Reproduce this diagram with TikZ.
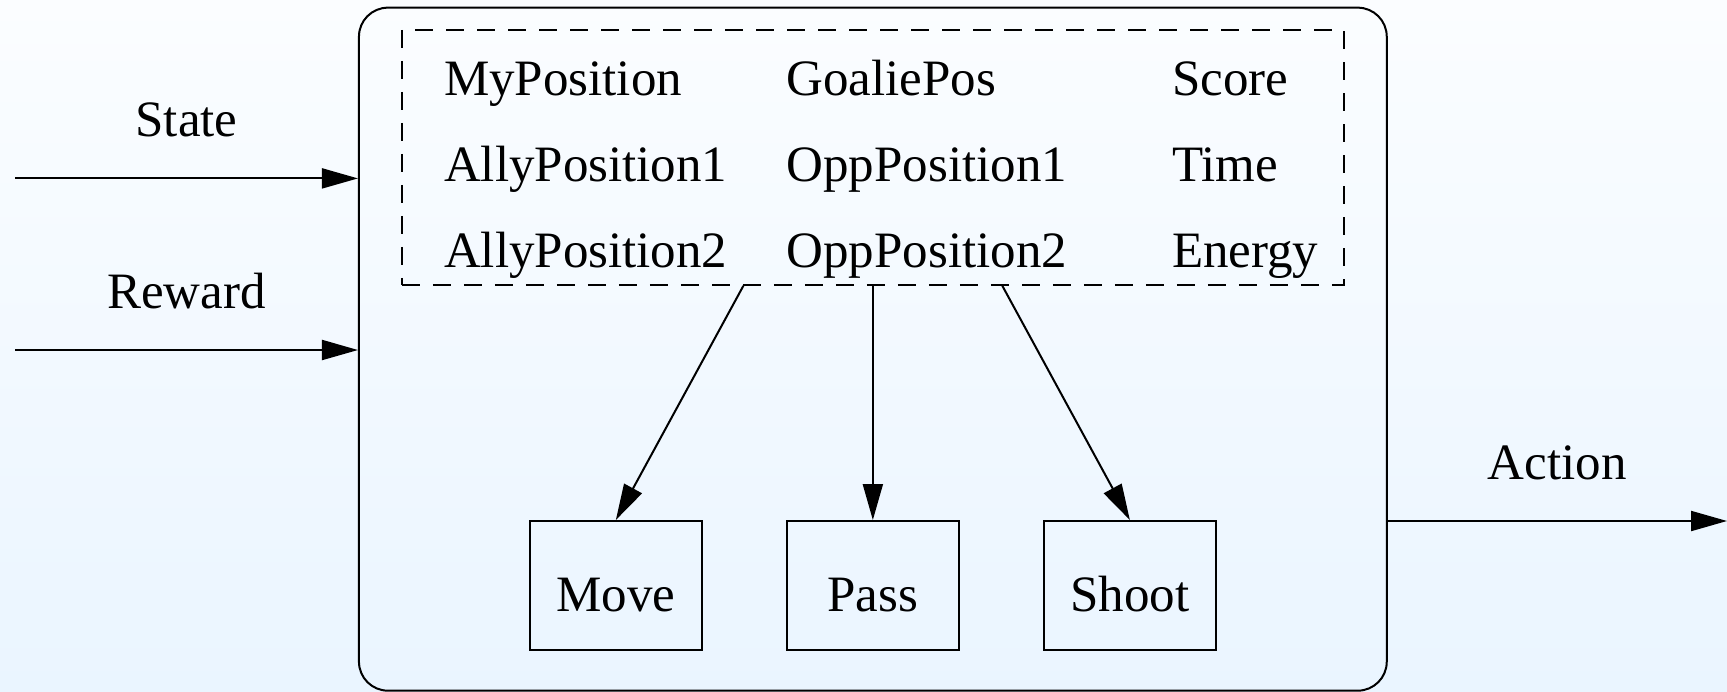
\documentclass[tikz,border=0pt]{standalone}
\usepackage{fontspec}
\setmainfont{Liberation Serif}
\usetikzlibrary{arrows.meta,calc}

\definecolor{skytop}{RGB}{251,253,255}
\definecolor{skybottom}{RGB}{234,245,255}

\tikzset{
  lbl/.style={font=\fontsize{25.5}{30}\selectfont},
  flow/.style={-{Triangle[length=18pt,width=10pt]}, line width=1pt},
  actbox/.style={draw, line width=1pt, minimum width=86pt, minimum height=64.5pt, inner sep=0pt, text height=25.6pt, text depth=0pt, lbl},
}

\begin{document}
\begin{tikzpicture}[x=0.5pt,y=-0.5pt]
   % backdrop
   \shade[top color=skytop, bottom color=skybottom] (0,0) rectangle (1727,691);
   \useasboundingbox (0,0) rectangle (1727,691);

   % agent with its feature block
   \node[draw, line width=1pt, rounded corners=14.5pt, minimum width=513.9pt, minimum height=341.5pt] (agent) at (872.85,349.15) {};
   \node[draw, line width=0.9pt, dash pattern=on 9pt off 6.5pt, minimum width=470.9pt, minimum height=127.6pt] (feat) at (872.85,157.35) {};

   \node[lbl, anchor=base west] (mypos) at (437,95) {MyPosition};
   \node[lbl, anchor=base west] (ally1) at (437,181) {AllyPosition1};
   \node[lbl, anchor=base west] (ally2) at (437,267) {AllyPosition2};
   \node[lbl, anchor=base west] (goalie) at (779.5,95) {GoaliePos};
   \node[lbl, anchor=base west] (opp1) at (779.5,181) {OppPosition1};
   \node[lbl, anchor=base west] (opp2) at (779.5,267) {OppPosition2};
   \node[lbl, anchor=base west] (score) at (1165,95) {Score};
   \node[lbl, anchor=base west] (time) at (1165,181) {Time};
   \node[lbl, anchor=base west] (energy) at (1165,267) {Energy};

   % actions
   \node[actbox] (move) at (615.85,585.5) {Move};
   \node[actbox] (pass) at (872.85,585.5) {Pass};
   \node[actbox] (shoot) at (1129.85,585.5) {Shoot};

   \draw[flow] ($(feat.south)+(-129.5,0)$) -- (move.north);
   \draw[flow] (feat.south) -- (pass.north);
   \draw[flow] ($(feat.south)+(129.5,0)$) -- (shoot.north);

   % inputs and output
   \coordinate (sin) at (15,178.4);
   \coordinate (rin) at (15,350);
   \coordinate (aout) at (1727,521);
   \draw[flow] (sin) -- (sin -| agent.west) node[midway, anchor=base, yshift=21pt, lbl] {State};
   \draw[flow] (rin) -- (rin -| agent.west) node[midway, anchor=base, yshift=21pt, lbl] {Reward};
   \draw[flow] (aout -| agent.east) -- (aout) node[midway, anchor=base, yshift=21pt, lbl] {Action};
\end{tikzpicture}
\end{document}
